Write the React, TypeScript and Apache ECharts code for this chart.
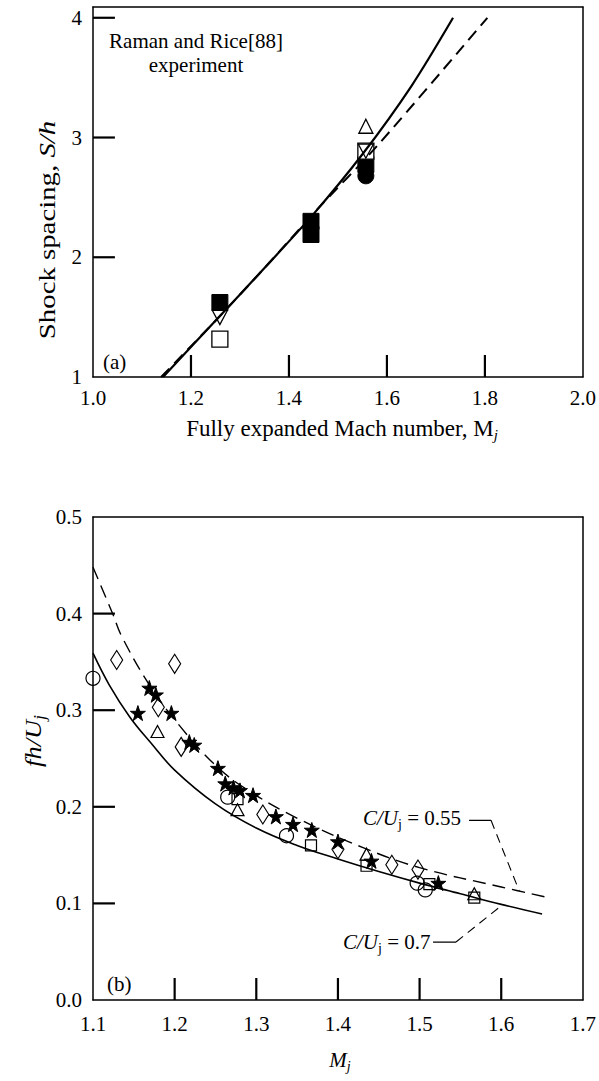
import React, { useEffect, useRef } from "react";
import * as echarts from "echarts";

// ---------- (a) Shock spacing ----------
const topSolidM = [1.143, 1.25, 1.35, 1.45, 1.55, 1.65, 1.735];
const topSolidS = [1.0, 1.47, 1.91, 2.36, 2.86, 3.43, 4.0];
const topDashM = [1.139, 1.25, 1.35, 1.46, 1.58, 1.805];
const topDashS = [1.0, 1.47, 1.91, 2.41, 2.93, 4.0];

const topFilledSquares = [[1.259, 1.622], [1.445, 2.3], [1.445, 2.19], [1.557, 2.775]];
const topOpenSquares = [[1.259, 1.317], [1.557, 2.886]];
const topDownTriangles = [[1.259, 1.497], [1.557, 2.886]];
const topUpTriangles = [[1.557, 3.094]];
const topFilledCircles = [[1.557, 2.68]];

const topXRange = { min: 1.0, max: 2.0, interval: 0.2 };
const topYRange = { min: 1, max: 4.09, interval: 1 };
const topXTickVals = [1.2, 1.4, 1.6, 1.8];
const topYTickVals = [2, 3, 4];

// ---------- (b) Strouhal number ----------
const c07M = [1.1, 1.12, 1.145, 1.17, 1.2, 1.25, 1.3, 1.35, 1.4, 1.45, 1.5, 1.55, 1.6, 1.65];
const c07V = [0.359, 0.326, 0.293, 0.267, 0.238, 0.203, 0.178, 0.16, 0.146, 0.133, 0.121, 0.11, 0.099, 0.089];
const c055M = [1.1, 1.124, 1.136, 1.17, 1.206, 1.25, 1.29, 1.353, 1.43, 1.5, 1.6, 1.658];
const c055V = [0.448, 0.4, 0.375, 0.325, 0.284, 0.243, 0.217, 0.187, 0.158, 0.137, 0.117, 0.106];

const botCircles = [[1.1, 0.333], [1.265, 0.21], [1.337, 0.17], [1.497, 0.121], [1.507, 0.114]];
const botDiamonds = [[1.129, 0.352], [1.2, 0.348], [1.18, 0.303], [1.208, 0.262], [1.308, 0.192], [1.4, 0.156], [1.466, 0.14], [1.498, 0.135]];
const botStars = [[1.155, 0.297], [1.169, 0.323], [1.177, 0.316], [1.196, 0.297], [1.218, 0.267], [1.224, 0.264], [1.253, 0.24], [1.262, 0.224], [1.272, 0.22], [1.28, 0.217], [1.296, 0.212], [1.324, 0.19], [1.345, 0.182], [1.368, 0.176], [1.4, 0.164], [1.441, 0.144], [1.523, 0.121]];
const botTriangles = [[1.179, 0.278], [1.277, 0.197], [1.435, 0.151], [1.567, 0.11]];
const botSquares = [[1.277, 0.208], [1.367, 0.16], [1.435, 0.139], [1.512, 0.12], [1.567, 0.106]];

const leader055Solid = [[1.5606, 0.186], [1.5875, 0.186]];
const leader055Dash = [[1.5875, 0.186], [1.622, 0.113]];
const leader07Solid = [[1.5165, 0.06], [1.5446, 0.06]];
const leader07Dash = [[1.5446, 0.06], [1.6003, 0.0977]];

const botXRange = { min: 1.1, max: 1.7, interval: 0.1 };
const botYRange = { min: 0, max: 0.5, interval: 0.1 };
const botXTickVals = [1.2, 1.3, 1.4, 1.5, 1.6];
const botYTickVals = [0.1, 0.2, 0.3, 0.4];

const zip = (a: number[], b: number[]) => a.map((v, i) => [v, b[i]]);

const FONT = "Liberation Serif";
const STAR = "path://M50,0 L61.8,35.1 L98.5,35.1 L68.8,56.8 L80.2,91.9 L50,70.2 L19.8,91.9 L31.2,56.8 L1.5,35.1 L38.2,35.1 Z";
const DOWN_TRI = "path://M0,0 L100,0 L50,90 Z";

// grid boxes (pixels)
const G0 = { left: 93, top: 7, width: 492, height: 370 };
const G1 = { left: 93, top: 517, width: 491, height: 483 };
const TICK_LEN = 22;
const TICK_COLOR = "#000";

const axisCommon = {
  type: "value",
  axisLine: { show: true, onZero: false, lineStyle: { color: "#000", width: 1.5 } },
  axisTick: { show: false },
  splitLine: { show: false },
  splitArea: { show: false },
};

const borderAxis = {
  type: "value",
  axisLine: { show: true, onZero: false, lineStyle: { color: "#000", width: 1.5 } },
  axisTick: { show: false },
  axisLabel: { show: false },
  splitLine: { show: false },
};

// inward tick marks: short line series through the axes' scales; length converted from pixels
const tickLines = (
  axisIdx: number, values: number[], dir: "x" | "y",
  xr: { min: number; max: number }, yr: { min: number; max: number }, g: { width: number; height: number }
) =>
  values.map((v) => {
    const data =
      dir === "x"
        ? [[v, yr.min], [v, yr.min + (TICK_LEN * (yr.max - yr.min)) / g.height]]
        : [[xr.min, v], [xr.min + (TICK_LEN * (xr.max - xr.min)) / g.width, v]];
    return {
      type: "line", xAxisIndex: axisIdx, yAxisIndex: axisIdx, data, symbol: "none", silent: true, z: 5,
      clip: false,
      lineStyle: { color: TICK_COLOR, width: 2.2, opacity: 1 },
    };
  });

const open = { color: "#fff", borderColor: "#000", borderWidth: 1.3, opacity: 1 };
const openT = { color: "transparent", borderColor: "#000", borderWidth: 1.2, opacity: 1 };
const filled = { color: "#000", borderColor: "#000", borderWidth: 1, opacity: 1 };

const rich = (size = 21) => ({
  n: { fontSize: size, fontFamily: FONT, fill: "#000", lineHeight: size + 5, verticalAlign: "middle" },
  i: { fontSize: size, fontFamily: FONT, fontStyle: "italic", fill: "#000", lineHeight: size + 5, verticalAlign: "middle" },
  s: { fontSize: Math.round(size * 0.67), fontFamily: FONT, fill: "#000", lineHeight: size + 5, verticalAlign: "bottom" },
  si: { fontSize: Math.round(size * 0.67), fontFamily: FONT, fontStyle: "italic", fill: "#000", lineHeight: size + 5, verticalAlign: "bottom" },
});

const option: any = {
  animation: false,
  backgroundColor: "#fff",
  grid: [
    { ...G0, show: false },
    { ...G1, show: false },
  ],
  xAxis: [
    {
      ...axisCommon,
      gridIndex: 0,
      position: "bottom",
      ...topXRange,
      axisLabel: { color: "#000", fontSize: 21, fontFamily: FONT, margin: 10, formatter: (v: number) => v.toFixed(1) },
    },
    {
      ...axisCommon,
      gridIndex: 1,
      position: "bottom",
      ...botXRange,
      axisLabel: { color: "#000", fontSize: 21, fontFamily: FONT, margin: 13, formatter: (v: number) => v.toFixed(1) },
    },
    { ...borderAxis, gridIndex: 0, position: "top", ...topXRange },
    { ...borderAxis, gridIndex: 1, position: "top", ...botXRange },
  ],
  yAxis: [
    {
      ...axisCommon,
      gridIndex: 0,
      position: "left",
      ...topYRange,
      axisLabel: {
        color: "#000", fontSize: 21, fontFamily: FONT, margin: 11,
        formatter: (v: number) => (Math.abs(v - Math.round(v)) < 1e-6 ? String(Math.round(v)) : ""),
      },
    },
    {
      ...axisCommon,
      gridIndex: 1,
      position: "left",
      ...botYRange,
      axisLabel: { color: "#000", fontSize: 21, fontFamily: FONT, margin: 11, formatter: (v: number) => v.toFixed(1) },
    },
    { ...borderAxis, gridIndex: 0, position: "right", ...topYRange },
    { ...borderAxis, gridIndex: 1, position: "right", ...botYRange },
  ],
  series: [
    // (a) lines
    { type: "line", xAxisIndex: 0, yAxisIndex: 0, data: zip(topSolidM, topSolidS), symbol: "none", smooth: 0.3, lineStyle: { color: "#000", width: 2.2 } },
    { type: "line", xAxisIndex: 0, yAxisIndex: 0, data: zip(topDashM, topDashS), symbol: "none", smooth: 0.3, lineStyle: { color: "#000", width: 2, type: [12, 7] } },
    // (a) markers
    { type: "scatter", xAxisIndex: 0, yAxisIndex: 0, data: topFilledCircles, symbol: "circle", symbolSize: 16, itemStyle: filled },
    { type: "scatter", xAxisIndex: 0, yAxisIndex: 0, data: topFilledSquares, symbol: "rect", symbolSize: 16, itemStyle: filled },
    { type: "scatter", xAxisIndex: 0, yAxisIndex: 0, data: topOpenSquares, symbol: "rect", symbolSize: 16, itemStyle: open },
    { type: "scatter", xAxisIndex: 0, yAxisIndex: 0, data: topDownTriangles, symbol: DOWN_TRI, symbolSize: [15, 14], itemStyle: open },
    { type: "scatter", xAxisIndex: 0, yAxisIndex: 0, data: topUpTriangles, symbol: "triangle", symbolSize: [14, 14], itemStyle: open },

    // (b) curves
    { type: "line", xAxisIndex: 1, yAxisIndex: 1, data: zip(c07M, c07V), symbol: "none", smooth: 0.4, lineStyle: { color: "#000", width: 1.6 } },
    { type: "line", xAxisIndex: 1, yAxisIndex: 1, data: zip(c055M, c055V), symbol: "none", smooth: 0.4, lineStyle: { color: "#000", width: 1.4, type: [13, 7] } },
    // leaders
    { type: "line", xAxisIndex: 1, yAxisIndex: 1, data: leader055Solid, symbol: "none", lineStyle: { color: "#000", width: 1.3 } },
    { type: "line", xAxisIndex: 1, yAxisIndex: 1, data: leader055Dash, symbol: "none", lineStyle: { color: "#000", width: 1.1, type: [9, 6] } },
    { type: "line", xAxisIndex: 1, yAxisIndex: 1, data: leader07Solid, symbol: "none", lineStyle: { color: "#000", width: 1.3 } },
    { type: "line", xAxisIndex: 1, yAxisIndex: 1, data: leader07Dash, symbol: "none", lineStyle: { color: "#000", width: 1.1, type: [9, 6] } },
    // (b) markers
    { type: "scatter", xAxisIndex: 1, yAxisIndex: 1, data: botCircles, symbol: "circle", symbolSize: 14, itemStyle: openT },
    { type: "scatter", xAxisIndex: 1, yAxisIndex: 1, data: botDiamonds, symbol: "diamond", symbolSize: [12, 19], itemStyle: openT },
    { type: "scatter", xAxisIndex: 1, yAxisIndex: 1, data: botSquares, symbol: "rect", symbolSize: 11, itemStyle: openT },
    { type: "scatter", xAxisIndex: 1, yAxisIndex: 1, data: botTriangles, symbol: "triangle", symbolSize: [13, 12], itemStyle: openT },
    { type: "scatter", xAxisIndex: 1, yAxisIndex: 1, data: botStars, symbol: STAR, symbolSize: 15, itemStyle: filled },

    // ticks (drawn last)
    ...tickLines(0, topXTickVals, "x", topXRange, topYRange, G0),
    ...tickLines(0, topYTickVals, "y", topXRange, topYRange, G0),
    ...tickLines(1, botXTickVals, "x", botXRange, botYRange, G1),
    ...tickLines(1, botYTickVals, "y", botXRange, botYRange, G1),
  ],
  graphic: [
    {
      type: "text", x: 196, y: 41, silent: true,
      style: { text: "Raman and Rice[88]", fontSize: 21, fontFamily: FONT, fill: "#000", align: "center", verticalAlign: "middle" },
    },
    {
      type: "text", x: 196, y: 65, silent: true,
      style: { text: "experiment", fontSize: 21, fontFamily: FONT, fill: "#000", align: "center", verticalAlign: "middle" },
    },
    {
      type: "text", x: 103, y: 362, silent: true,
      style: { text: "(a)", fontSize: 21, fontFamily: FONT, fill: "#000", align: "left", verticalAlign: "middle" },
    },
    {
      type: "text", x: 107, y: 984, silent: true,
      style: { text: "(b)", fontSize: 21, fontFamily: FONT, fill: "#000", align: "left", verticalAlign: "middle" },
    },
    {
      type: "text", x: 47, y: 230, rotation: Math.PI / 2, scaleX: 1.2, silent: true,
      style: { text: "{n|Shock spacing, }{i|S/h}", align: "center", verticalAlign: "middle", fill: "#000", rich: rich(24) },
    },
    {
      type: "text", x: 342, y: 428, silent: true,
      style: { text: "{n|Fully expanded Mach number, }{n|M}{si|j}", align: "center", verticalAlign: "middle", fill: "#000", rich: rich(23) },
    },
    {
      type: "text", x: 33, y: 741, rotation: Math.PI / 2, scaleX: 1.1, silent: true,
      style: { text: "{i|fh/U}{si|j}", align: "center", verticalAlign: "middle", fill: "#000", rich: rich(24) },
    },
    {
      type: "text", x: 340, y: 1060, silent: true,
      style: { text: "{i|M}{si|j}", align: "center", verticalAlign: "middle", fill: "#000", rich: rich(21) },
    },
    {
      type: "text", x: 363, y: 818, silent: true,
      style: { text: "{i|C/U}{s|j}{n| = 0.55}", align: "left", verticalAlign: "middle", fill: "#000", rich: rich(21) },
    },
    {
      type: "text", x: 343, y: 942, silent: true,
      style: { text: "{i|C/U}{s|j}{n| = 0.7}", align: "left", verticalAlign: "middle", fill: "#000", rich: rich(21) },
    },
  ],
};

export default function App() {
  const ref = useRef<HTMLDivElement>(null);
  useEffect(() => {
    document.body.style.margin = "0";
    const chart = echarts.init(ref.current as HTMLDivElement, null, { renderer: "svg" });
    chart.setOption(option);
    return () => chart.dispose();
  }, []);
  return <div ref={ref} style={{ width: 599, height: 1081 }} />;
}
